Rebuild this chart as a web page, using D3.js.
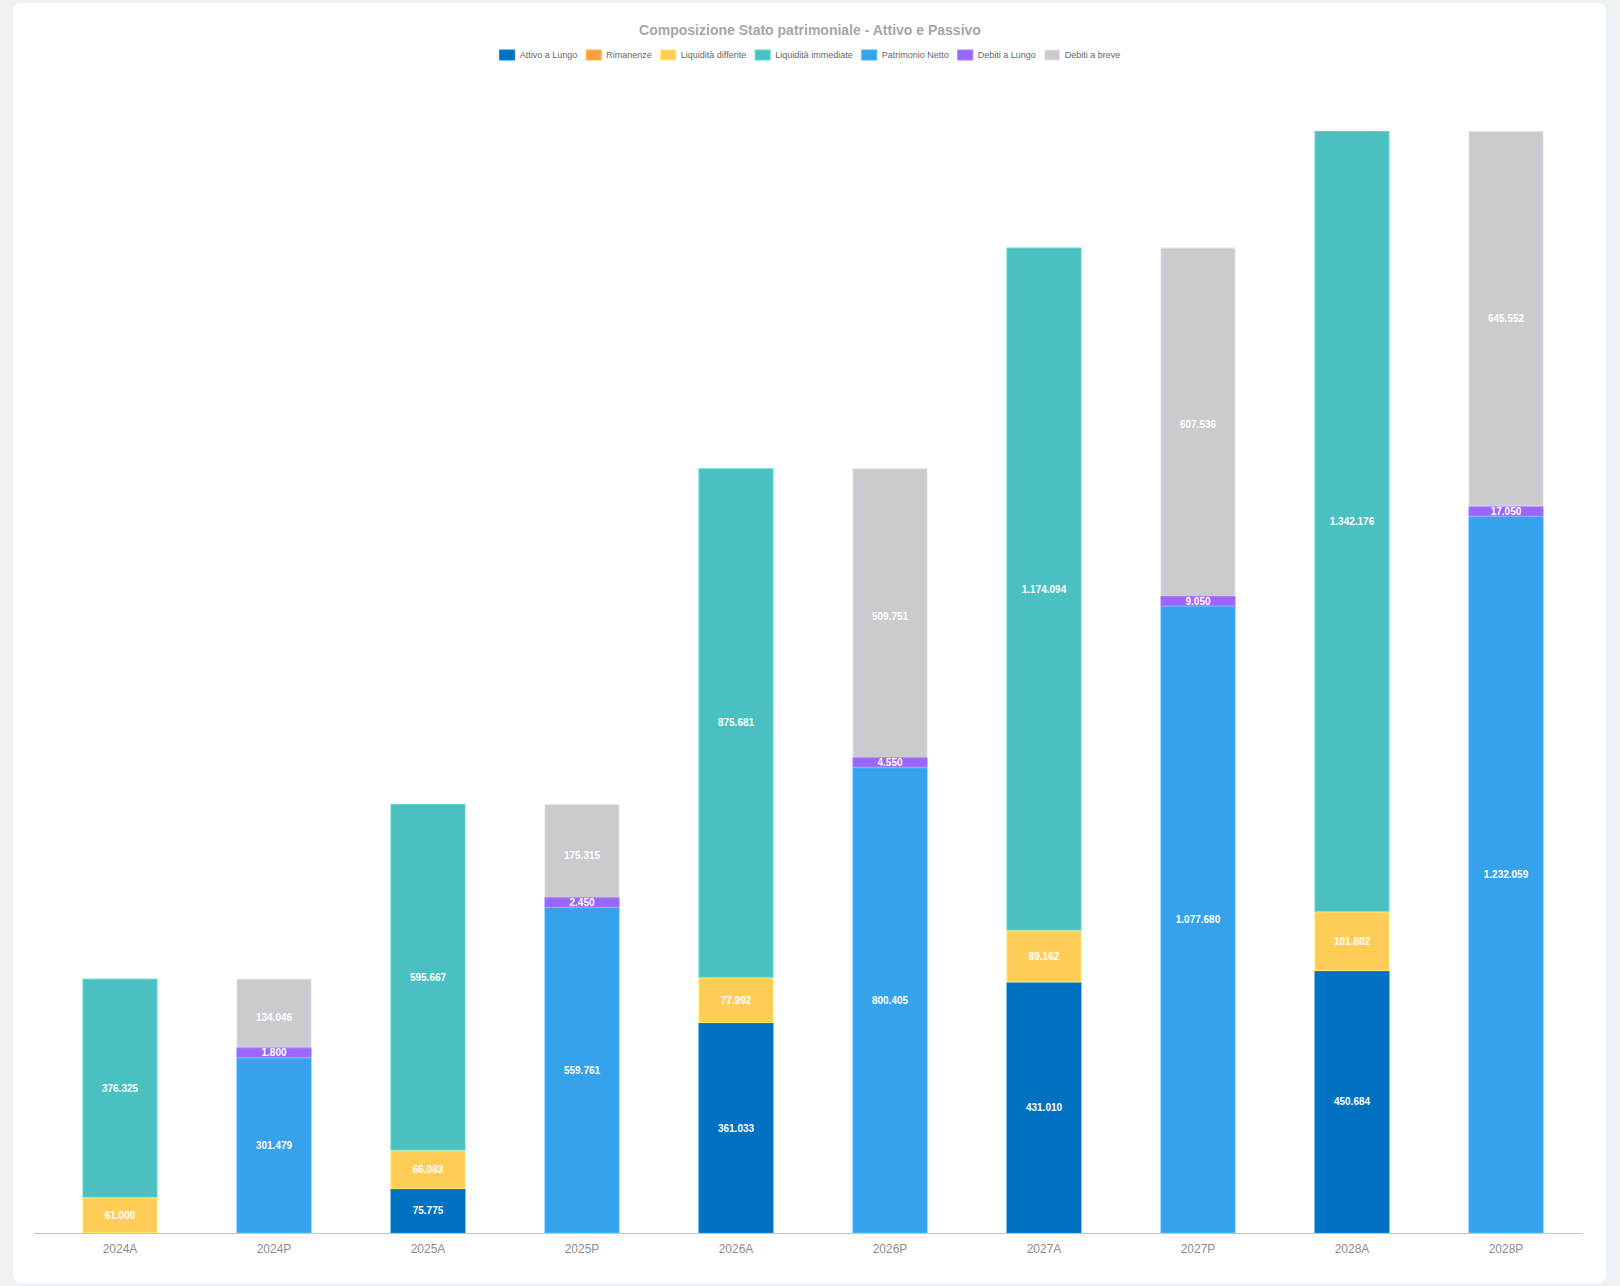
<!DOCTYPE html>
<html lang="it">
<head>
<meta charset="UTF-8">
<title>Composizione Stato patrimoniale</title>
<script src="https://d3js.org/d3.v7.min.js"></script>
<style>
    body { margin: 0; background: #edf1f4; font-family: "Liberation Sans", Arial, Helvetica, sans-serif; }
    .lbl { fill: #fff; font-size: 10px; font-weight: bold; }
    .legend text { fill: #666; font-size: 9px; }
</style>
</head>
<body>
<svg width="1620" height="1286"></svg>
<script>
// data
var categories = ["2024A", "2024P", "2025A", "2025P", "2026A", "2026P", "2027A", "2027P", "2028A", "2028P"];
var attivoLungo = [0, 0, 75775, 0, 361033, 0, 431010, 0, 450684, 0];
var rimanenze = [0, 0, 0, 0, 0, 0, 0, 0, 0, 0];
var liquiditaDifferite = [61000, 0, 66083, 0, 77992, 0, 89162, 0, 101802, 0];
var liquiditaImmediate = [376325, 0, 595667, 0, 875681, 0, 1174094, 0, 1342176, 0];
var patrimonioNetto = [0, 301479, 0, 559761, 0, 800405, 0, 1077680, 0, 1232059];
var debitiLungo = [0, 1800, 0, 2450, 0, 4550, 0, 9050, 0, 17050];
var debitiBreve = [0, 134046, 0, 175315, 0, 509751, 0, 607536, 0, 645552];

var series = [
    {name: "Attivo a Lungo", values: attivoLungo, color: "#0070c0"},
    {name: "Rimanenze", values: rimanenze, color: "#ff9f40"},
    {name: "Liquidità differite", values: liquiditaDifferite, color: "#ffcd56"},
    {name: "Liquidità immediate", values: liquiditaImmediate, color: "#4bc0c0"},
    {name: "Patrimonio Netto", values: patrimonioNetto, color: "#36a2eb"},
    {name: "Debiti a Lungo", values: debitiLungo, color: "#9966ff"},
    {name: "Debiti a breve", values: debitiBreve, color: "#c9cbcf"}
];
var minBar = 10; // small segments still get drawn this tall

var svg = d3.select("svg");

// card
svg.append("rect")
    .attr("x", 13).attr("y", 3)
    .attr("width", 1593).attr("height", 1280)
    .attr("rx", 8)
    .attr("fill", "#fff");

svg.append("text")
    .attr("x", 810).attr("y", 35)
    .attr("text-anchor", "middle")
    .attr("fill", "#a6a6a6")
    .style("font-size", "14px")
    .style("font-weight", "bold")
    .text("Composizione Stato patrimoniale - Attivo e Passivo");

// legend, laid out from measured text widths
var legend = svg.append("g").attr("class", "legend");
var items = legend.selectAll("g").data(series).enter().append("g");
items.append("rect")
    .attr("width", 15).attr("height", 10)
    .attr("y", -5)
    .attr("fill", function (d) { return d.color; })
    .attr("stroke", function (d) { return d3.color(d.color).brighter(0.4); });
items.append("text")
    .attr("x", 20).attr("dy", "0.35em")
    .text(function (d) { return d.name; });
var pos = 0, offsets = [];
items.each(function () {
    offsets.push(pos);
    pos += this.getBBox().width + 9;
});
pos -= 9;
items.attr("transform", function (d, i) { return "translate(" + offsets[i] + ",0)"; });
legend.attr("transform", "translate(" + (810 - pos / 2) + ",55)");

// scales
var rows = categories.map(function (c, i) {
    var r = {cat: c};
    series.forEach(function (s) { r[s.name] = s.values[i]; });
    return r;
});
var stacked = d3.stack().keys(series.map(function (s) { return s.name; }))(rows);

var x = d3.scaleBand().domain(categories).range([43, 1583])
    .paddingInner(0.513).paddingOuter(0.2565);
var y = d3.scaleLinear()
    .domain([0, d3.max(stacked[stacked.length - 1], function (d) { return d[1]; })])
    .range([1233, 131]);

var fmt = d3.formatLocale({decimal: ",", thousands: ".", grouping: [3], currency: ["", "€"]}).format(",d");

function segTop(d) { return Math.min(y(d[1]), y(d[0]) - minBar); }

var layers = svg.selectAll(".layer").data(stacked).enter().append("g")
    .attr("class", "layer")
    .attr("fill", function (d, i) { return series[i].color; })
    .attr("stroke", function (d, i) { return d3.color(series[i].color).brighter(0.3); });

layers.selectAll("rect")
    .data(function (d) { return d.filter(function (p) { return p[1] - p[0] > 0; }); })
    .enter().append("rect")
    .attr("x", function (d) { return x(d.data.cat) + 0.5; })
    .attr("y", function (d) { return segTop(d) + 0.5; })
    .attr("width", x.bandwidth() - 1)
    .attr("height", function (d) { return Math.max(0, y(d[0]) - segTop(d) - 1); });

layers.selectAll("text")
    .data(function (d) { return d.filter(function (p) { return p[1] - p[0] > 0; }); })
    .enter().append("text")
    .attr("class", "lbl")
    .attr("stroke", "none")
    .attr("text-anchor", "middle")
    .attr("dy", "0.35em")
    .attr("x", function (d) { return x(d.data.cat) + x.bandwidth() / 2; })
    .attr("y", function (d) { return (y(d[0]) + segTop(d)) / 2; })
    .text(function (d) { return fmt(d[1] - d[0]); });

// the thin debiti a lungo bars sit on top of the debiti a breve ones
layers.filter(function (d) { return d.key === "Debiti a Lungo"; }).raise();

// x axis
var gx = svg.append("g")
    .attr("transform", "translate(0,1233)")
    .call(d3.axisBottom(x).tickSize(0).tickPadding(11));
gx.select(".domain").remove();
gx.selectAll("text").attr("fill", "#8c8c8c").style("font-size", "12px");
svg.append("line")
    .attr("x1", 34).attr("x2", 1583)
    .attr("y1", 1233.5).attr("y2", 1233.5)
    .attr("stroke", "#c4c4c4");
</script>
</body>
</html>
